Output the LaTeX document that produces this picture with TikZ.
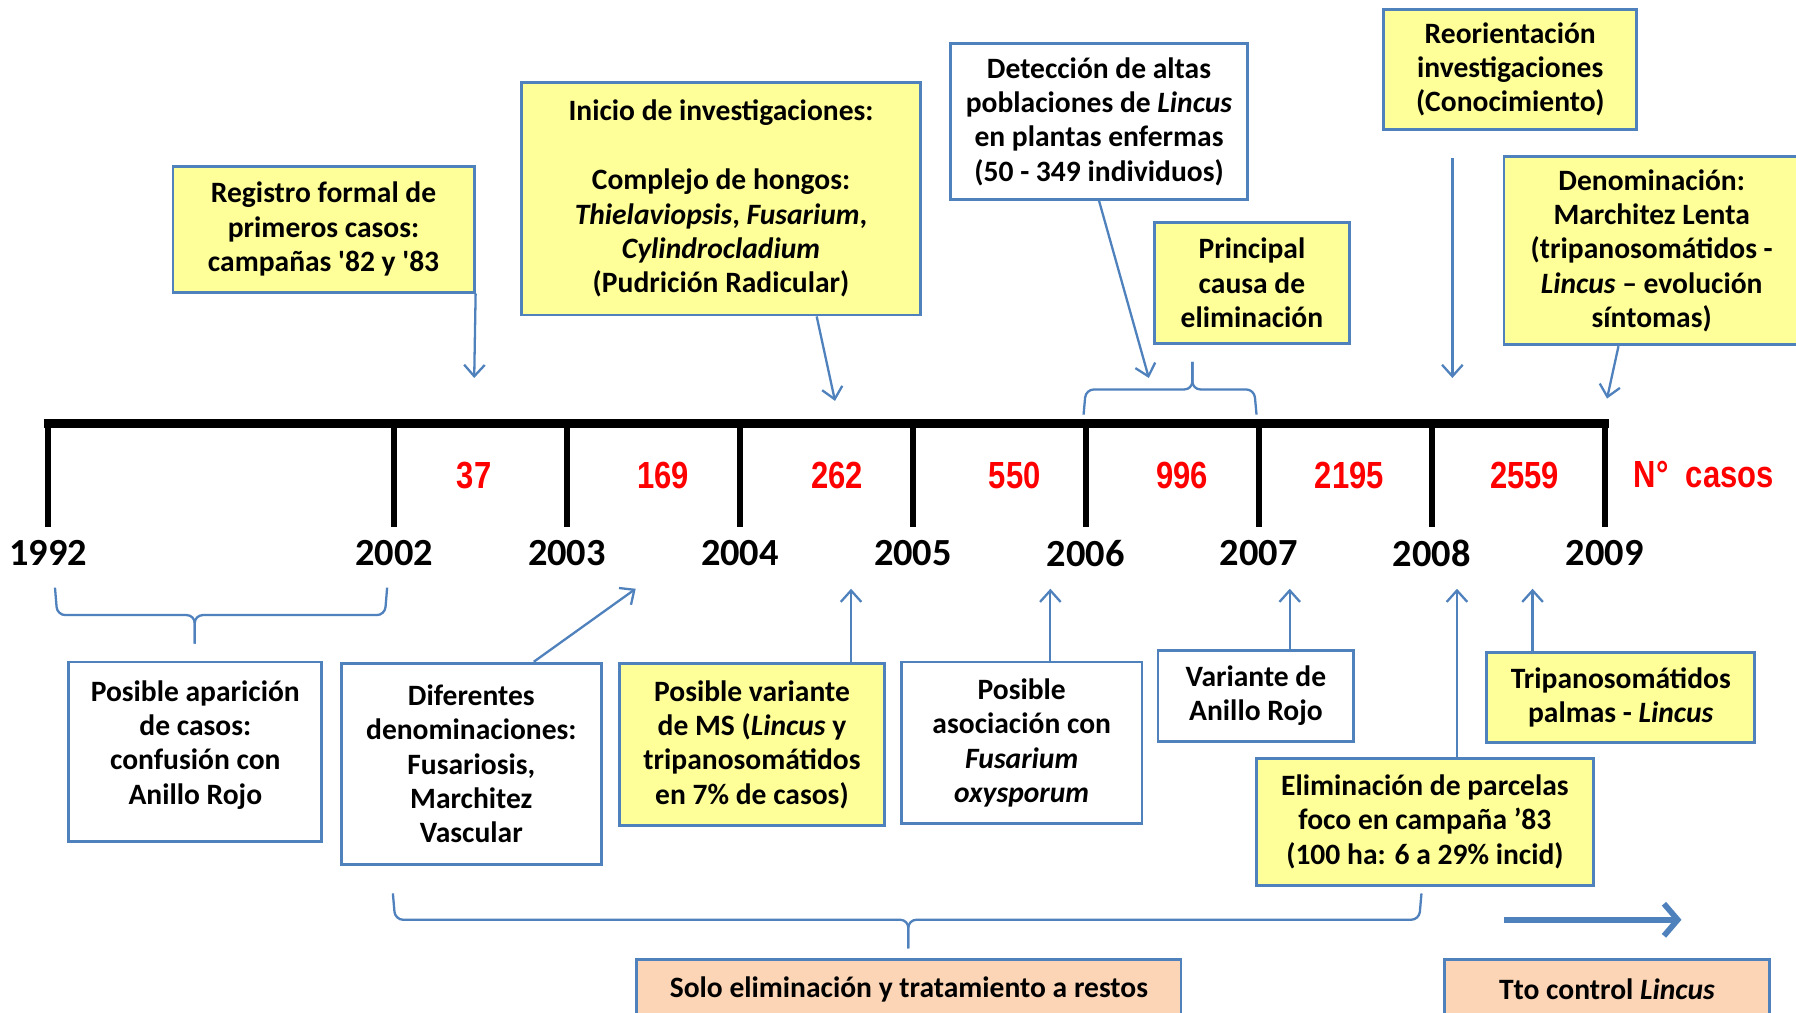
\documentclass[tikz,border=0pt]{standalone}
\usepackage{fontspec}
\setmainfont{Carlito}
\newfontfamily\narrowfont{Liberation Sans}[FakeStretch=0.82]
\usetikzlibrary{arrows.meta}
\definecolor{bl}{HTML}{4F81BD}
\definecolor{yel}{HTML}{FFFF99}
\definecolor{peach}{HTML}{FBD5B5}
\definecolor{rd}{HTML}{FF0000}
\begin{document}
\begin{tikzpicture}[x=1pt,y=-1pt,
  box/.style={draw=bl, line width=2.5pt, inner sep=0pt, align=center,
    font=\fontsize{25.8}{30}\selectfont\bfseries},
  ybox/.style={box, fill=yel},
  wbox/.style={box, fill=white},
  pbox/.style={box, fill=peach},
  arr/.style={draw=bl, line width=2pt, -{Straight Barb[length=10pt,width=18pt]}},
  bigarr/.style={draw=bl, line width=5pt, -{Straight Barb[length=12pt,width=28pt]}},
  brc/.style={draw=bl, line width=2pt, rounded corners=7pt},
  year/.style={font=\fontsize{33.5}{36}\selectfont\bfseries},
  rednum/.style={text=rd, font=\narrowfont\bfseries\fontsize{33}{36}\selectfont},
  tick/.style={line width=5pt, black},
]
\useasboundingbox[fill=white] (0,0) rectangle (1568,884);

% timeline
\draw[line width=8pt, black] (38,370) -- (1405,370);
\foreach \x/\yr in {42/1992,344/2002,495/2003,646/2004,797/2005,948/2006,1099/2007,1250/2008,1401/2009}{
  \draw[tick] (\x,368) -- (\x,460);
  \node[year] (y\yr) at (\x,483) {\yr};
}
\foreach \x/\n in {414/37,579/169,731/262,886/550,1032/996,1178/2195,1331/2559}{
  \node[rednum] (n\n) at (\x,415) {\n};
}
\node[rednum, anchor=west] (ncasos) at (1423,414) {N°\ \ casos};

% top boxes
\node[ybox, minimum width=263pt, minimum height=110pt] (reg) at (282.5,200)
  {Registro formal de\\primeros casos:\\campañas \textquotesingle82 y \textquotesingle83};
\node[ybox, minimum width=349pt, minimum height=203pt] (ini) at (629.5,173.5)
  {Inicio de investigaciones:\\[30pt]Complejo de hongos:\\\textit{Thielaviopsis}, \textit{Fusarium},\\\textit{Cylindrocladium}\\(Pudrición Radicular)};
\node[wbox, minimum width=259pt, minimum height=136pt] (det) at (959.5,106)
  {Detección de altas\\poblaciones de \textit{Lincus}\\en plantas enfermas\\(50 - 349 individuos)};
\node[ybox, minimum width=170pt, minimum height=106pt] (pri) at (1093,247)
  {Principal\\causa de\\eliminación};
\node[ybox, minimum width=221pt, minimum height=105pt] (reo) at (1318.5,60.5)
  {Reorientación\\investigaciones\\(Conocimiento)};
\node[ybox, minimum width=258pt, minimum height=164pt] (den) at (1442,219)
  {Denominación:\\Marchitez Lenta\\(tripanosomátidos -\\\textit{Lincus} – evolución\\síntomas)};

% bottom boxes
\node[wbox, minimum width=221pt, minimum height=157pt, text depth=17pt] (apa) at (170.5,656.5)
  {Posible aparición\\de casos:\\confusión con\\Anillo Rojo};
\node[wbox, minimum width=227pt, minimum height=176pt] (dif) at (411.5,667)
  {Diferentes\\denominaciones:\\Fusariosis,\\Marchitez\\Vascular};
\node[ybox, minimum width=231pt, minimum height=142pt] (var) at (656.5,650)
  {Posible variante\\de MS (\textit{Lincus} y\\tripanosomátidos\\en 7\% de casos)};
\node[wbox, minimum width=210pt, minimum height=141pt] (aso) at (892,648.5)
  {Posible\\asociación con\\\textit{Fusarium}\\\textit{oxysporum}};
\node[wbox, minimum width=171pt, minimum height=79pt] (ani) at (1096.5,607.5)
  {Variante de\\Anillo Rojo};
\node[ybox, minimum width=234pt, minimum height=78pt] (tri) at (1415,609)
  {Tripanosomátidos\\palmas - \textit{Lincus}};
\node[ybox, minimum width=294pt, minimum height=111pt] (eli) at (1244,717.5)
  {Eliminación de parcelas\\foco en campaña ’83\\(100 ha: 6 a 29\% incid)};
\node[pbox, minimum width=475pt, minimum height=52pt] (solo) at (793.5,864)
  {Solo eliminación y tratamiento a restos};
\node[pbox, minimum width=284pt, minimum height=52pt] (tto) at (1403,864)
  {Tto control \textit{Lincus}};

% arrow tips
\coordinate (t1) at (414,330);
\coordinate (t2) at (729,350);
\coordinate (t3) at (1003,330);
\coordinate (t4) at (1268,330);
\coordinate (t5) at (1403,348);
\coordinate (b1) at (555,514);
\coordinate (b2) at (743,514);
\coordinate (b3) at (917,514);
\coordinate (b4) at (1126,514);
\coordinate (b5) at (1338,514);
\coordinate (b6) at (1272,514);

\draw[arr] (reg.south east) -- (t1);
\draw[arr] ([xshift=83.5pt]ini.south) -- (t2);
\draw[arr] (det.south) -- (t3);
\draw[arr] ([xshift=-50.5pt,yshift=-24pt]reo.south) -- (t4);
\draw[arr] ([xshift=-29pt]den.south) -- (t5);
\draw[arr] ([xshift=54.5pt]dif.north) -- (b1);
\draw[arr] ([xshift=86.5pt]var.north) -- (b2);
\draw[arr] ([xshift=25pt]aso.north) -- (b3);
\draw[arr] ([xshift=29.5pt]ani.north) -- (b4);
\draw[arr] ([xshift=-77pt]tri.north) -- (b5);
\draw[arr] ([xshift=28pt]eli.north) -- (b6);

% braces
\draw[brc] (48,513) -- (50,537) -- (170,537) -- (170,562);
\draw[brc] (170,562) -- (170,537) -- (336,537) -- (338,513);
\draw[brc] (946,362) -- (948,340) -- (1041,340) -- (1041,316);
\draw[brc] (1041,316) -- (1041,340) -- (1095,340) -- (1097,362);
\draw[brc] (343,780) -- (345,803) -- (793,803) -- (793,828);
\draw[brc] (793,828) -- (793,803) -- (1239,803) -- (1241,780);

% thick arrow
\coordinate (ta1) at (1313,803);
\coordinate (ta2) at (1468,803);
\draw[bigarr] (ta1) -- (ta2);
\end{tikzpicture}
\end{document}
